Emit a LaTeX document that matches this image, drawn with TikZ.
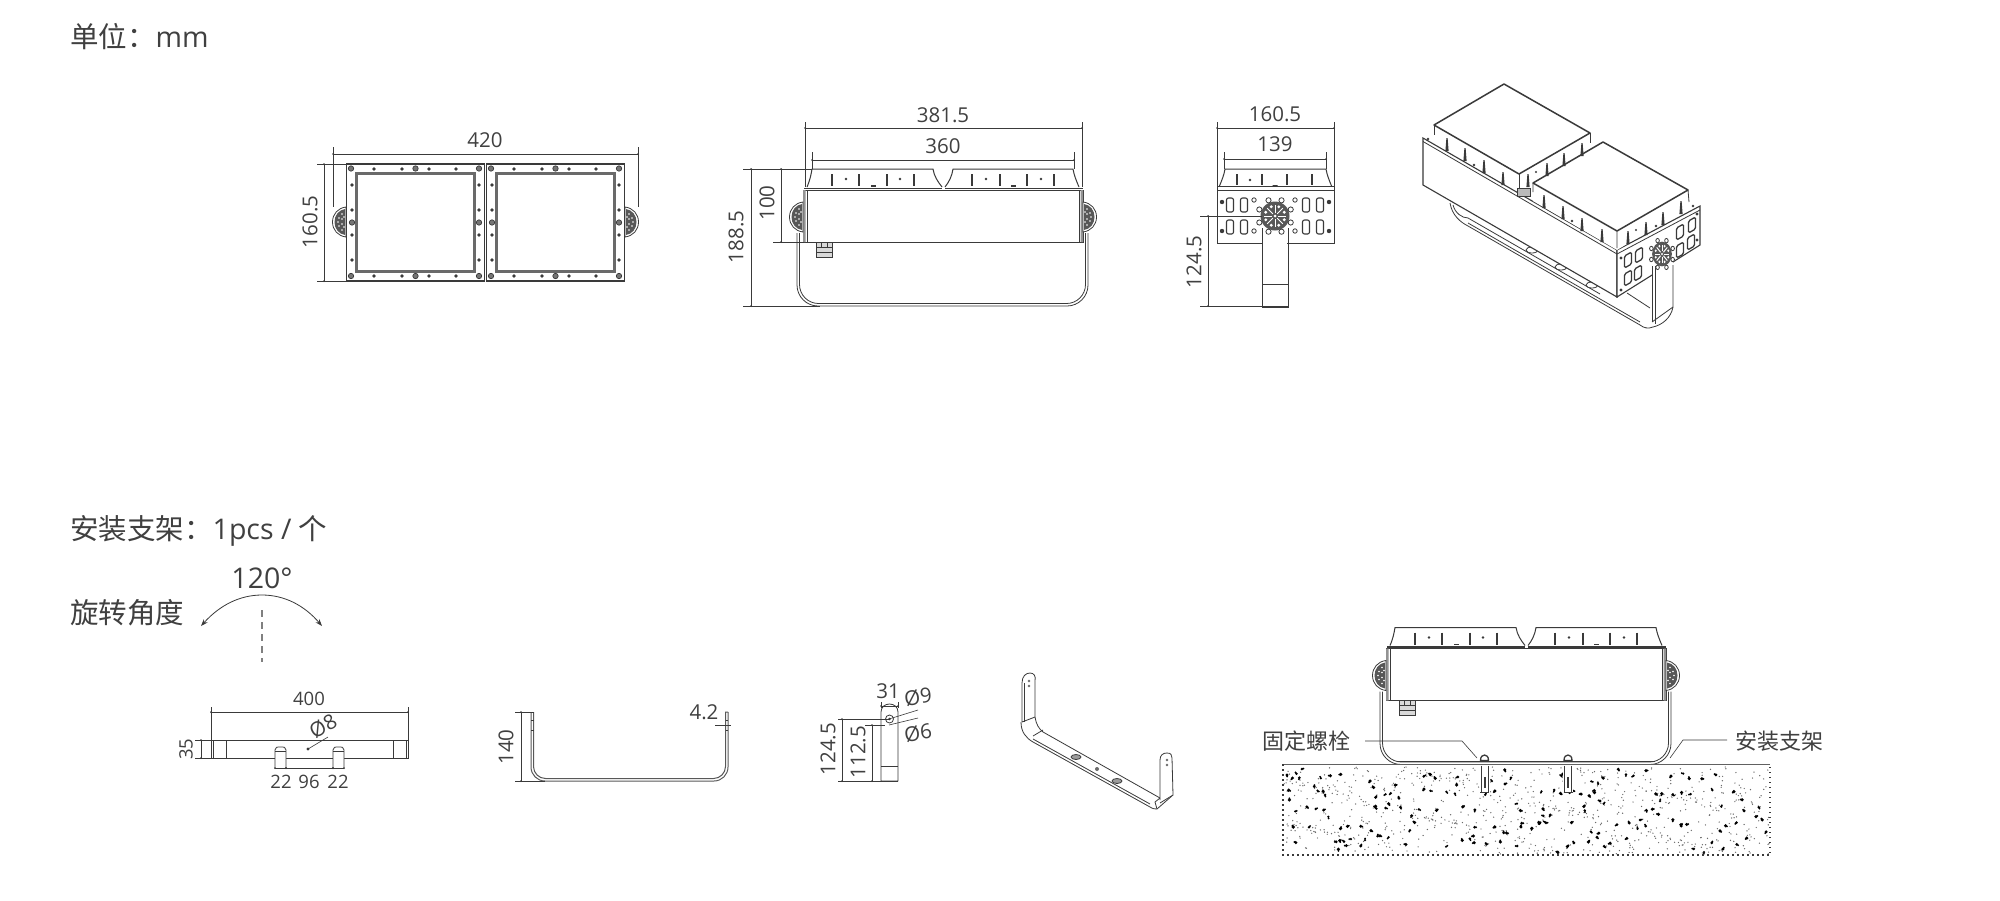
\documentclass[tikz,border=0pt]{standalone}
\usepackage{fontspec}
\usetikzlibrary{arrows.meta}
\setmainfont{Open Sans}
\newfontfamily\cjk{Noto Sans CJK SC}
\definecolor{ink}{HTML}{3A3A3A}
\definecolor{txt}{HTML}{404040}
\definecolor{band}{HTML}{6A6A6A}
\tikzset{
  lin/.style={draw=ink,line width=0.8pt},
  thick line/.style={draw=ink,line width=1.5pt},
  heavy/.style={draw=ink,line width=1.5pt},
  dim/.style={draw=ink,line width=0.6pt},
  small label/.style={text=txt,inner sep=0pt,font=\fontsize{20.5}{20.5}\selectfont},
  tiny label/.style={text=txt,inner sep=0pt,font=\fontsize{18.5}{18.5}\selectfont},
  big label/.style={text=txt,inner sep=0pt,anchor=west,font=\fontsize{28.5}{28.5}\selectfont},
  mid label/.style={text=txt,inner sep=0pt,font=\fontsize{28.5}{28.5}\selectfont},
  note label/.style={text=txt,inner sep=0pt,font=\cjk\fontsize{22}{22}\selectfont},
}
\newcommand\hdm[3]{\draw[dim] (#1,#3)--(#2,#3); \fill[ink] (#1,#3) circle (1) (#2,#3) circle (1);}
\newcommand\vdm[3]{\draw[dim] (#3,#1)--(#3,#2); \fill[ink] (#3,#1) circle (1) (#3,#2) circle (1);}
\newcommand\bulge[3]{\begin{scope}[shift={(#1,#2)},xscale=#3]
  \draw[lin,fill=white] (0,-15) .. controls (-8,-14) and (-13.5,-8) .. (-13.5,0) .. controls (-13.5,8) and (-8,14) .. (0,15) -- cycle;
  \fill[ink!85] (-1,-13) .. controls (-7,-12) and (-11.5,-7) .. (-11.5,0) .. controls (-11.5,7) and (-7,12) .. (-1,13) -- cycle;
  \foreach \a/\b in {-4/-8,-7/-4,-8/0,-7/4,-4/8,-4/-3,-4/2,-2/-5,-2/5}{\fill[white] (\a,\b) circle (0.8);}
\end{scope}}
\newcommand\lampside{
  \draw[lin] (797,233)[rounded corners=21]--(797,306)--(1088,306)[sharp corners]--(1088,233);
  \draw[lin] (799.5,233)[rounded corners=19]--(799.5,303.5)--(1085.5,303.5)[sharp corners]--(1085.5,233);
  \draw[lin,fill=white] (803,190) rectangle (1083,242);
  \draw[lin] (807,190)--(807,242) (1079,190)--(1079,242);
  \fill[ink!55] (803,190) rectangle (805.5,242) (1080.5,190) rectangle (1083,242);
  \draw[lin,fill=white,line width=1pt] (807,187) .. controls (810,180) and (811,175) .. (812,169) -- (933,169) .. controls (934,176) and (938,182) .. (942,187);
  \draw[lin,fill=white,line width=1pt] (945,187) .. controls (949,182) and (952,176) .. (953,169) -- (1073,169) .. controls (1074,175) and (1076,180) .. (1079,187);
  \draw[thick line] (804,188.5)--(942,188.5)  (945,188.5)--(1083,188.5);
  \foreach \x in {832,859,887,914,972,1000,1027,1054}{\draw[thick line] (\x,174)--(\x,186);}
  \foreach \x in {846,900,986,1041}{\fill[ink] (\x,179) circle (1.3);}
  \foreach \x in {873,1013}{\fill[ink] (\x-2.5,185) rectangle (\x+2.5,186.5);}
  \draw[lin,fill=white!70!gray] (816,242) rectangle (832,257);
  \draw[lin] (816,247)--(832,247) (816,252)--(832,252) (821,242)--(821,247) (827,242)--(827,247);
  \bulge{803}{217}{1}
  \bulge{1083}{217}{-1}
}
\newcommand\hub[3]{\begin{scope}[shift={(#1,#2)},scale=#3]
  \foreach \a in {22.5,67.5,...,360}{\draw[lin,fill=white] (\a:17) circle (2.6);}
  \fill[ink!85] (0,0) circle (14.5);
  \foreach \a in {0,45,...,315}{\draw[white,line width=1pt] (\a:3) -- (\a:11);\fill[white] (\a+22.5:10) circle (1.6);}
  \fill[white] (0,0) circle (1.5);
\end{scope}}
\newcommand\sq[2]{\draw[line width=1.1pt,draw=ink,rounded corners=2] (#1-3.5,#2-7) rectangle (#1+3.5,#2+7);}
\newcommand\iso[2]{\draw[line width=1.3pt,draw=ink,rounded corners=1.5] (#1-3.5,#2-4) -- (#1+3.5,#2-8) -- (#1+3.5,#2+4) -- (#1-3.5,#2+8) -- cycle;}
\begin{document}
\begin{tikzpicture}[x=1pt,y=-1pt]
\useasboundingbox (0,0) rectangle (2000,900);
\fill[white] (0,0) rectangle (2000,900);

% headings
\node[big label] (unit) at (70,37) {{\cjk 单位：}mm};
\node[big label] (qty) at (70,531) {{\cjk 安装支架：}1pcs / {\cjk 个}};
\node[big label] (rot) at (70,613) {\cjk 旋转角度};
\node[mid label] (ang) at (262,578) {120°};
\draw[lin,{Stealth[length=7pt,width=5pt]}-{Stealth[length=7pt,width=5pt]}] (201,626) .. controls (220,605) and (240,595) .. (262,595) .. controls (284,595) and (304,605) .. (322,626);
\draw[draw=gray,line width=1.4pt,dash pattern=on 7pt off 5pt] (262,610)--(262,662);

% ---- front view
\bulge{346}{222}{1}
\bulge{625}{222}{-1}
\foreach \o in {0,140}{
\begin{scope}[shift={(\o,0)}]
  \draw[lin,fill=white,line width=1.1pt] (346.5,164) rectangle (484.5,281);
  \draw[draw=band,line width=2.6pt] (356.5,173.5) rectangle (474.5,271.5);
  \foreach \x in {374,402,429,456}{\fill[ink] (\x,169) circle (1.8) (\x,276) circle (1.8);}
  \foreach \y in {185,210,235,260}{\fill[ink] (352,\y) circle (1.8) (479,\y) circle (1.8);}
  \foreach \p in {(351,168.5),(415.5,168.5),(479,168.5),(351,276),(415.5,276),(479,276),(352,222.5),(479,222.5)}{\draw[ink,line width=.7pt,fill=ink!70] \p circle (2.7);}
\end{scope}}
\draw[dim] (333,147)--(333,207) (638,147)--(638,207);
\hdm{333}{638}{154}
\draw[dim] (317,164)--(346,164) (317,281)--(346,281);
\vdm{164}{281}{324}
\node[small label] (a420) at (485,140) {420};
\node[small label,rotate=90] (a1605) at (310,222) {160.5};

% ---- side view
\lampside
\draw[dim] (805,122)--(805,187) (1082,122)--(1082,187);
\hdm{805}{1082}{128}
\draw[dim] (812,152)--(812,169) (1074,152)--(1074,169);
\hdm{812}{1074}{160}
\draw[dim] (743,169)--(812,169) (773,242)--(804,242) (743,306)--(820,306);
\vdm{169}{242}{781}
\vdm{169}{306}{751}
\node[small label] (b3815) at (943,115) {381.5};
\node[small label] (b360) at (943,146) {360};
\node[small label,rotate=90] (b100) at (767,203) {100};
\node[small label,rotate=90] (b1885) at (736,237) {188.5};

% ---- end view
\draw[lin] (1262,228)--(1262,307)--(1288,307)--(1288,228) (1262,284)--(1288,284);
\draw[lin,fill=white] (1217,190) rectangle (1334,243);
\fill[white] (1263,225) rectangle (1287,243.5);
\draw[lin] (1262,228)--(1262,243) (1288,228)--(1288,243);
\draw[lin,fill=white,line width=1pt] (1219,187) .. controls (1222,180) and (1224,175) .. (1225,169) -- (1326,169) .. controls (1327,175) and (1329,180) .. (1332,187);
\draw[lin,fill=white] (1217,186) rectangle (1334,190);
\foreach \x in {1237,1262,1287,1312}{\draw[thick line] (\x,174)--(\x,185);}
\fill[ink] (1250,180) circle (1.3) (1272.5,185) rectangle (1277.5,186.2);
\foreach \x in {1230,1244,1306,1320}{\sq{\x}{205}\sq{\x}{227}}
\foreach \x/\y in {1222,1329}{\fill[ink] (\x,202) circle (2.2) (\x,231) circle (2.2);}
\foreach \x in {1254,1295}{\draw[lin] (\x,200) circle (2.2) (\x,231) circle (2.2);}
\hub{1275}{216}{1}
\draw[dim] (1217,122)--(1217,186) (1334,122)--(1334,186);
\hdm{1217}{1334}{128}
\draw[dim] (1224,152)--(1224,169) (1326,152)--(1326,169);
\hdm{1224}{1326}{159}
\draw[dim] (1200,216)--(1262,216) (1200,306)--(1288,306);
\vdm{216}{306}{1208}
\node[small label] (c1605) at (1275,114) {160.5};
\node[small label] (c139) at (1275,144) {139};
\node[small label,rotate=90] (c1245) at (1194,262) {124.5};

% ---- isometric view
\draw[lin] (1450,203) .. controls (1452,215) and (1460,222) .. (1468,226) -- (1640,325) .. controls (1644,328) and (1648,329) .. (1653,327);
\draw[lin] (1468,223) -- (1640,322);
\draw[lin] (1453,205) .. controls (1455,213) and (1462,218) .. (1468,218) -- (1600,294);
\draw[lin] (1627,293) -- (1650,308);
\foreach \p in {(1532,250),(1561,267),(1592,285)}{\draw[lin,fill=white] \p ellipse (6 and 3);}
% body
\draw[lin,fill=white,line width=1.1pt] (1423,138)--(1617,250)--(1617,297)--(1423,185)--cycle;
\draw[lin,fill=white,line width=1.1pt] (1617,250)--(1700,206)--(1700,245)--(1617,297)--cycle;
\draw[lin] (1423,141.5)--(1617,254)--(1700,210);
% top surfaces: covers
\fill[white] (1434,125)--(1519,174)--(1519,190)--(1434,137)--cycle;
\fill[white] (1519,174)--(1590,133)--(1590,143)--(1519,190)--cycle;
\draw[lin] (1434,125)--(1434,135) (1519,174)--(1519,190) (1590,133)--(1590,143);
\draw[heavy,fill=white,line join=round] (1434,125)--(1504,84)--(1590,133)--(1519,174)--cycle;
\fill[white] (1533,183)--(1617,231)--(1617,250)--(1533,201)--cycle;
\fill[white] (1617,231)--(1689,190)--(1689,206)--(1617,250)--cycle;
\draw[lin] (1617,231)--(1617,248) (1688,190)--(1689,202) (1533,183)--(1533,192);
\draw[heavy,fill=white,line join=round] (1533,183)--(1603,142)--(1688,190)--(1617,231)--cycle;
\foreach \x/\y in {1447/138,1465/148,1484/160,1503/172,1528/174,1547/163,1564/153,1582/143,
  1544/195,1563/206,1582/218,1602/229,1628/231,1646/222,1663/212,1681/201}{
  \fill[ink] (\x-1.6,\y+13)--(\x-.6,\y)--(\x+.6,\y)--(\x+1.6,\y+13)--cycle;}
\fill[ink] (1474,165) circle (1.3) (1572,221) circle (1.3) (1656,226) circle (1.3) (1536,172) circle (1.2) (1636,230) circle (1.2);
\draw[lin,fill=ink!35] (1517,188) rectangle (1530,196);
\foreach \x/\y in {1628/260,1639/255,1680/232,1692/225,1628/278,1638/273,1680/250,1691/242}{\iso{\x}{\y}}
\fill[ink] (1621,258) circle (1.6) (1621,290) circle (1.6) (1697,214) circle (1.6) (1697,240) circle (1.6) (1428,139) circle (1.4) (1693,206) circle (1.4);
% front arm
\fill[white] (1652,262) rectangle (1673,322);
\draw[lin] (1652,266)--(1652,322) (1655,266)--(1655,324);
\draw[lin] (1673,265)--(1673,307) .. controls (1671,318) and (1662,325) .. (1653,327);
\draw[lin] (1652,322)--(1673,307);
\begin{scope}[shift={(1662,254)},xscale=.8,yscale=1]
\hub{0}{0}{.85}
\end{scope}

% ---- bracket top view
\draw[lin] (211,740) rectangle (408,758);
\draw[lin] (213,740)--(213,758) (226,740)--(226,758) (393,740)--(393,758) (406,740)--(406,758);
\foreach \x in {275,333}{\draw[lin,fill=white] (\x,768)--(\x,750) .. controls (\x,747) and (\x+2,747) .. (\x+5.5,747) .. controls (\x+9,747) and (\x+11,747) .. (\x+11,750)--(\x+11,768);
\draw[lin] (\x,751)--(\x+11,751);}
\draw[dim] (211,707)--(211,740) (408,707)--(408,740);
\hdm{211}{408}{712}
\draw[dim] (195,740)--(211,740) (195,758)--(211,758);
\vdm{740}{758}{201}
\hdm{286}{333}{768}
\hdm{275}{286}{768}
\hdm{333}{344}{768}
\fill[ink] (308,749) circle (1.6);
\draw[dim] (308,749)--(328,737);
\node[tiny label] (d400) at (309,699) {400};
\node[tiny label,rotate=90] (d35) at (186,749) {35};
\node[small label,rotate=30] (d8) at (323,726) {Ø8};
\node[tiny label] (d22a) at (281,782) {22};
\node[tiny label] (d96) at (309,782) {96};
\node[tiny label] (d22b) at (338,782) {22};

% ---- bracket profile
\draw[draw=ink!85,line width=1pt] (531,712)[rounded corners=14]--(531,781)--(728,781)[sharp corners]--(728,712);
\draw[draw=ink!85,line width=1pt] (533.5,712)[rounded corners=12]--(533.5,778.5)--(725.5,778.5)[sharp corners]--(725.5,712)--(728,712);
\draw[dim] (515,712)--(533.5,712) (515,781)--(545,781);
\vdm{712}{781}{521}
\draw[dim] (531,720)--(533.5,720) (531,730)--(533.5,730) (725.5,720)--(728,720) (725.5,730)--(728,730);
\draw[dim] (715,725)--(731,725);
\node[small label,rotate=90] (e140) at (506,747) {140};
\node[small label] (e42) at (704,712) {4.2};

% ---- bracket edge view
\draw[lin] (881,781)--(881,712) .. controls (881,707) and (885,704) .. (889.5,704) .. controls (894,704) and (898,707) .. (898,712)--(898,781)--cycle;
\draw[lin] (881,766)--(898,766);
\draw[lin] (889.5,719) circle (4);
\fill[ink] (889.5,719) circle (1.3);
\draw[dim] (881,702)--(881,708) (898,702)--(898,708);
\hdm{881}{898}{706}
\draw[dim] (838,719)--(889,719) (865,725)--(885,725) (838,781)--(898,781);
\vdm{719}{781}{842}
\vdm{725}{781}{872}
\draw[dim] (889,719)--(918,710) (889,725)--(918,718);
\node[small label] (f31) at (888,691) {31};
\node[small label,rotate=8] (f9) at (918,697) {Ø9};
\node[small label,rotate=8] (f6) at (918,733) {Ø6};
\node[small label,rotate=90] (f1245) at (828,749) {124.5};
\node[small label,rotate=90] (f1125) at (858,752) {112.5};

% ---- bracket iso view
\begin{scope}[line join=round]
\draw[lin,fill=white] (1022,722)--(1022,683) .. controls (1022,676) and (1026,673) .. (1030,673) .. controls (1034,673) and (1036,676) .. (1035,681) -- (1035,717) -- cycle;
\draw[lin] (1024,683)--(1024,722);
\draw[lin] (1021,722) .. controls (1021,732) and (1026,738) .. (1033,742) -- (1150,807) .. controls (1153,809) and (1155,809) .. (1157,809) -- (1173,795);
\draw[lin] (1033,739)--(1150,804);
\draw[lin] (1035,717) .. controls (1036,724) and (1039,729) .. (1043,732) -- (1160,798);
\draw[lin] (1033,736)--(1043,730);
\draw[lin,fill=white] (1160,800)--(1160,760) .. controls (1160,755) and (1163,753) .. (1167,753) .. controls (1171,753) and (1172,755) .. (1172,758)--(1173,795)--(1160,803);
\draw[lin] (1157,809)--(1155,802)--(1160,798);
\foreach \p in {(1076,757),(1117,781)}{\draw[lin,fill=ink!50] \p ellipse (5 and 2.5);}
\fill[ink!75] (1097,769) circle (2);
\foreach \x/\y in {1029/681,1029/686,1167/760,1167/765}{\fill[ink!75] (\x,\y) circle (1.4);}
\end{scope}

% ---- mounted view
\begin{scope}[shift={(583,458.5)}]
\lampside
\end{scope}
\fill[white] (1283,764.5) rectangle (1770,855);
% speckles placed by a quasi-random sequence, so no streaks appear
\foreach \i in {1,...,800}{
  \pgfmathsetmacro\px{1284+485*frac(\i*0.7548776662+0.13*sin(\i*13)+1)}
  \pgfmathsetmacro\py{767+87*frac(\i*0.5698402910+0.13*cos(\i*19)+1)}
  \fill[ink!75] (\px,\py) circle (0.7);}
\foreach \i in {1,...,170}{
  \pgfmathsetmacro\px{1286+481*frac(\i*0.6180339887+0.2*sin(\i*41)+1)}
  \pgfmathsetmacro\py{769+84*frac(\i*0.4142135624+0.2*cos(\i*67)+1)}
  \pgfmathsetmacro\pa{\i*77}
  \pgfmathsetmacro\pr{1.2+0.6*abs(sin(\i*53))}
  \fill[black] (\px,\py) circle (\pr) ++(\pa:1.6) circle (1);}
\draw[draw=ink!80,line width=1.2pt] (1283,764.5)--(1770,764.5);
\draw[ink,line width=1.3pt,dash pattern=on 1.5pt off 3.5pt] (1283,764)--(1283,855)--(1770,855)--(1770,764);
\draw[lin] (1398,761.5)--(1655,761.5);
\foreach \x in {1484.5,1568}{
  \fill[white] (\x-5,765.5) rectangle (\x+5,793);
  \draw[draw=ink,line width=1.3pt,fill=white] (\x-4,760.5) .. controls (\x-4,756.5) and (\x-2,755) .. (\x,755) .. controls (\x+2,755) and (\x+4,756.5) .. (\x+4,760.5) -- cycle;
  \draw[lin] (\x-3.5,765.5)--(\x-3.5,792) (\x+3.5,765.5)--(\x+3.5,792) (\x-4.5,792)--(\x+4.5,792);
  \fill[ink] (\x-1,777) rectangle (\x+1,788);
}
\node[note label,anchor=west] (g1) at (1262,741) {固定螺栓};
\node[note label,anchor=west] (g2) at (1735,741) {安装支架};
\draw[dim] (1365,741)--(1462,741)--(1477,758);
\draw[dim] (1727,740)--(1683,740)--(1670,758);
\end{tikzpicture}
\end{document}
